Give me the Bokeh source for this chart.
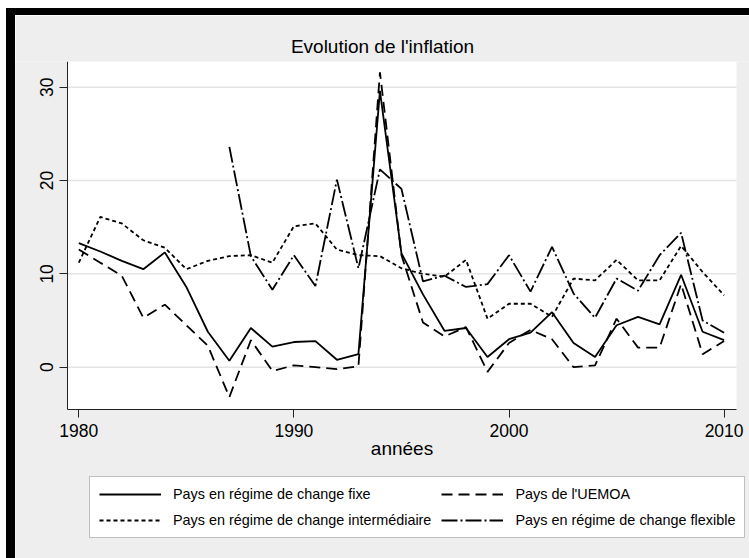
import math
from bokeh.plotting import figure
from bokeh.models import Range1d, FixedTicker, Legend, LegendItem
from bokeh.embed import file_html
from bokeh.resources import INLINE

nan = float("nan")
years = list(range(1980, 2011))
fixe = [13.3, 12.4, 11.4, 10.5, 12.3, 8.6, 3.8, 0.7, 4.2, 2.2,
        2.7, 2.8, 0.8, 1.4, 29.6, 12.2, 7.8, 3.9, 4.2, 1.1,
        3.0, 3.7, 5.9, 2.6, 1.1, 4.5, 5.4, 4.6, 9.9, 3.8, 2.9]
uemoa = [12.6, 11.2, 9.8, 5.3, 6.7, 4.5, 2.3, -3.2, 2.9, -0.4,
         0.2, 0.0, -0.2, 0.1, 31.6, 12.0, 4.8, 3.3, 4.3, -0.5,
         2.6, 4.0, 3.0, 0.0, 0.2, 5.2, 2.1, 2.1, 8.9, 1.4, 2.8]
inter = [11.2, 16.1, 15.4, 13.6, 12.8, 10.5, 11.4, 11.9, 12.0, 11.2,
         15.1, 15.4, 12.6, 12.0, 11.9, 10.6, 10.0, 9.7, 11.5, 5.2,
         6.8, 6.8, 5.4, 9.5, 9.3, 11.5, 9.3, 9.3, 13.0, 10.2, 7.7]
flex = [nan, nan, nan, nan, nan, nan, nan, 23.6, 11.9, 8.3,
        12.0, 8.7, 20.1, 10.6, 21.2, 19.1, 9.2, 9.8, 8.6, 8.9,
        12.0, 8.1, 12.9, 7.9, 5.3, 9.5, 8.2, 12.0, 14.4, 5.0, 3.7]

labels = ["Pays en régime de change fixe", "Pays de l'UEMOA",
          "Pays en régime de change intermédiaire", "Pays en régime de change flexible"]
x_ticks = [1980, 1990, 2000, 2010]
y_ticks = [0, 10, 20, 30]

FONT = "Liberation Sans"

# plot region (data limits of the white area)
X0, X1 = 1979.475, 2010.576
Y0, Y1 = -4.53, 32.75
# the frame extends beyond the plot region to hold the axes and the legend
X_LEFT, X_RIGHT = 1977.058, 2011.180
Y_BOTTOM = -20.49

p = figure(width=734, height=543, output_backend="svg", toolbar_location=None,
           x_range=Range1d(X_LEFT, X_RIGHT), y_range=Range1d(Y_BOTTOM, Y1),
           min_border_left=0, min_border_right=0, min_border_top=46,
           min_border_bottom=0, margin=(15, 0, 0, 15))
# black frame drawn as a shadow on the top and left of the figure
p.styles = {"box-shadow": "-4px -2px 0px 5px black"}
p.background_fill_color = "#EEEEEE"
p.border_fill_color = "#EEEEEE"
p.outline_line_color = None

# white plot region
p.quad(left=[X0], right=[X1], bottom=[Y0], top=[Y1], fill_color="white",
       line_color=None, level="image")
# horizontal grid lines limited to the plot region
p.segment(x0=[X0] * len(y_ticks), x1=[X1] * len(y_ticks), y0=y_ticks, y1=y_ticks,
          line_color="#E4E4E4", line_width=1.5, level="underlay")

p.title.text = "Evolution de l'inflation"
p.title.align = "center"
p.title.text_font = FONT
p.title.text_font_size = "19px"
p.title.text_font_style = "normal"
p.title.text_color = "black"
p.title.standoff = 9
p.title.offset = 0

p.xgrid.visible = False
p.ygrid.visible = False

for ax in (p.xaxis[0], p.yaxis[0]):
    ax.axis_line_color = "#222222"
    ax.axis_line_width = 1
    ax.major_tick_line_color = "#222222"
    ax.major_tick_out = 8
    ax.major_tick_in = 0
    ax.minor_tick_line_color = None
    ax.major_label_text_font = FONT
    ax.major_label_text_font_size = "17.5px"
    ax.major_label_text_color = "black"

p.xaxis.ticker = FixedTicker(ticks=x_ticks)
p.xaxis.fixed_location = Y0
p.xaxis.bounds = (X0, X1)
p.yaxis.ticker = FixedTicker(ticks=y_ticks)
p.yaxis.fixed_location = X0
p.yaxis.bounds = (Y0, Y1)
p.xaxis.major_label_standoff = 6
p.yaxis.major_label_standoff = 6
p.yaxis.major_label_orientation = "vertical"
p.xaxis.axis_label = "années"
p.xaxis.axis_label_text_font = FONT
p.xaxis.axis_label_text_font_size = "19px"
p.xaxis.axis_label_text_font_style = "normal"
p.xaxis.axis_label_text_color = "black"
p.xaxis.axis_label_standoff = -2

LW = 1.8
r1 = p.line(years, fixe, line_color="black", line_width=LW)
r2 = p.line(years, uemoa, line_color="black", line_width=LW, line_dash="11 6")
r3 = p.line(years, inter, line_color="black", line_width=LW, line_dash="4 3")
r4 = p.line(years, flex, line_color="black", line_width=LW, line_dash="16 3 2 3")

legend = Legend(items=[LegendItem(label=labels[0], renderers=[r1]),
                       LegendItem(label=labels[1], renderers=[r2]),
                       LegendItem(label=labels[2], renderers=[r3]),
                       LegendItem(label=labels[3], renderers=[r4])],
                orientation="horizontal", ncols=2,
                location=(74, 20))
legend.glyph_width = 62
legend.glyph_height = 16
legend.label_height = 16
legend.label_standoff = 12
legend.spacing = 10
legend.padding = 9
legend.margin = 0
legend.border_line_color = "#7F7F7F"
legend.border_line_width = 1.5
legend.background_fill_color = "white"
legend.background_fill_alpha = 1
legend.label_text_font = FONT
legend.label_text_font_size = "14.4px"
legend.label_text_color = "black"
p.add_layout(legend, "center")

open("out.html", "w").write(file_html(p, INLINE))
